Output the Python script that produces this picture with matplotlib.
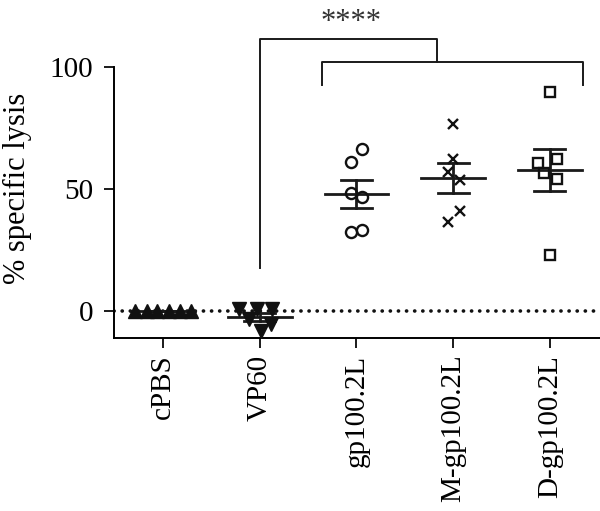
import numpy as np
import matplotlib
matplotlib.use("Agg")
import matplotlib.pyplot as plt

plt.rcParams['font.family'] = ['Liberation Serif', 'DejaVu Serif']

groups = ["cPBS", "VP60", "gp100.2L", "M-gp100.2L", "D-gp100.2L"]
cpbs = [0.0, 0.0, 0.0, 0.0, 0.0, 0.0]
vp60 = [0.8, -3.2, 0.8, -8.2, 0.8, -5.2]
gp100 = [61.0, 66.4, 48.4, 46.7, 32.4, 33.2]
m_gp100 = [76.6, 62.3, 57.0, 53.7, 41.0, 36.5]
d_gp100 = [89.8, 60.6, 62.3, 56.6, 54.1, 23.0]
yticks = [0, 50, 100]
sig_label = "****"
ylabel = "% specific lysis"

# layout (jitter of points within each column)
jitter = [
    [-0.29, -0.17, -0.06, 0.06, 0.18, 0.29],
    [-0.21, -0.11, -0.03, 0.01, 0.13, 0.12],
    [-0.06, 0.06, -0.06, 0.06, -0.06, 0.06],
    [0.0, 0.0, -0.05, 0.07, 0.07, -0.05],
    [0.0, -0.12, 0.07, -0.06, 0.07, 0.0],
]
data = [cpbs, vp60, gp100, m_gp100, d_gp100]
styles = [
    dict(marker='^', markersize=9.5, mfc='#111111', mec='#111111', mew=1.0),
    dict(marker='v', markersize=9.5, mfc='#111111', mec='#111111', mew=1.0),
    dict(marker='o', markersize=8, mfc='none', mec='#111111', mew=1.7),
    dict(marker='x', markersize=7.5, mfc='none', mec='#111111', mew=1.7),
    dict(marker='s', markersize=7, mfc='none', mec='#111111', mew=1.7),
]

fig = plt.figure(figsize=(6.0, 5.11), dpi=100)
ax = fig.add_axes([0.19, 0.3386, 0.81, 0.6614])
ax.set_xlim(-0.506, 4.517)
ax.set_ylim(-11.07, 127.5)

# dotted zero line
ax.plot([-0.506, 4.517], [0, 0], color='#111111', lw=2.6,
        linestyle=(0, (0.05, 2.2)), dash_capstyle='round', zorder=1)

col = '#1a1a1a'
lw_m = 2.0
for i, vals in enumerate(data):
    v = np.array(vals)
    x = i + np.array(jitter[i])
    m = v.mean()
    sem = v.std(ddof=1) / np.sqrt(len(v))
    ax.plot(x, v, linestyle='none', zorder=3, **styles[i])
    ax.plot([i - 0.33, i + 0.33], [m, m], color=col, lw=lw_m, zorder=2)
    ax.plot([i, i], [m - sem, m + sem], color=col, lw=lw_m, zorder=2)
    for e in (m - sem, m + sem):
        ax.plot([i - 0.16, i + 0.16], [e, e], color=col, lw=lw_m, zorder=2)

# significance brackets
lw_b = 1.4
ax.plot([1.0, 1.0, 2.83, 2.83], [17.6, 111.5, 111.5, 102.0], color=col, lw=lw_b, clip_on=False)
ax.plot([1.64, 1.64, 4.34, 4.34], [92.6, 102.0, 102.0, 92.6], color=col, lw=lw_b, clip_on=False)
ax.text(1.94, 112.5, sig_label, ha='center', va='bottom', fontsize=22, color='#333333')

# axes styling
for s in ['top', 'right']:
    ax.spines[s].set_visible(False)
ax.spines['left'].set_bounds(-11.07, 100)
ax.spines['left'].set_linewidth(1.4)
ax.spines['bottom'].set_linewidth(1.4)
ax.set_yticks(yticks)
ax.set_yticklabels([str(t) for t in yticks])
ax.set_xticks(range(len(groups)))
ax.set_xticklabels(groups, rotation=90)
ax.tick_params(axis='both', direction='out', length=7, width=1.4, labelsize=21, color=col)
ax.tick_params(axis='y', pad=8)
ax.tick_params(axis='x', pad=5)
ax.set_ylabel(ylabel, fontsize=22)
ax.yaxis.set_label_coords(-0.168, 0.444)

fig.savefig("out.png", dpi=100)
